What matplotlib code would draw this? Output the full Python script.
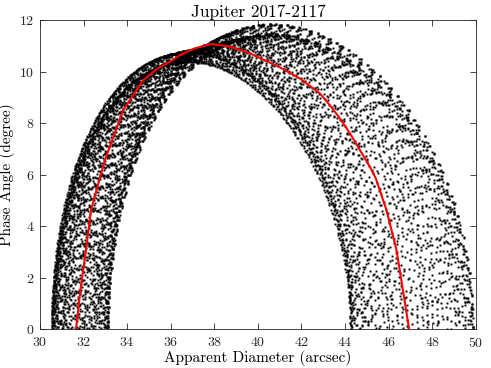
import numpy as np
import matplotlib
matplotlib.use("Agg")
import matplotlib.pyplot as plt

plt.rcParams['font.family'] = 'serif'
plt.rcParams['font.serif'] = ['cmr10']
plt.rcParams['axes.formatter.use_mathtext'] = True

# red reference curve
curve_diam = [31.65, 31.85, 32.11, 32.34, 32.98, 33.82, 34.74, 35.40, 36.10, 36.42, 37.10,
              37.88, 38.72, 39.63, 41.00, 41.93, 42.84, 43.30, 43.76, 44.22, 44.68,
              45.14, 45.41, 45.90, 46.36, 46.51, 46.94]
curve_phase = [0.00, 1.50, 3.08, 4.63, 6.57, 8.51, 9.67, 10.12, 10.45, 10.64, 10.90,
               11.07, 10.97, 10.71, 10.17, 9.73, 9.16, 8.70, 8.19, 7.61, 6.96,
               6.31, 5.86, 4.63, 3.08, 2.30, 0.00]

# scatter: Earth/Jupiter positions on dates spread over 2017-2117 (J2000 mean elements)
earth = dict(a=1.00000261, e=0.01671123, varpi=102.93768, L0=100.46457, period=365.25636)
jupiter = dict(a=5.20288700, e=0.04838624, varpi=14.72847983, L0=34.39644051, period=4332.589)
jd_start, jd_end, n_dates = 2457754.5, 2494278.5, 8500
diam_at_1au = 197.1  # arcsec, equatorial


def position(el, t):
    M = np.radians(el['L0'] + 360.0 / el['period'] * t - el['varpi'])
    E = M.copy()
    for i in range(30):
        E = M + el['e'] * np.sin(E)
    nu = 2 * np.arctan2(np.sqrt(1 + el['e']) * np.sin(E / 2), np.sqrt(1 - el['e']) * np.cos(E / 2))
    r = el['a'] * (1 - el['e'] * np.cos(E))
    lon = nu + np.radians(el['varpi'])
    return r * np.cos(lon), r * np.sin(lon)


# dates: golden-ratio (Weyl) spread over the century, no fixed step
golden = (np.sqrt(5) - 1) / 2
frac = (np.arange(n_dates) * golden) % 1.0
t = jd_start + frac * (jd_end - jd_start) - 2451545.0
ex, ey = position(earth, t)
jx, jy = position(jupiter, t)
dx, dy = ex - jx, ey - jy
delta = np.hypot(dx, dy)
rj = np.hypot(jx, jy)
cosa = (-jx * dx - jy * dy) / (rj * delta)
phase = np.degrees(np.arccos(np.clip(cosa, -1, 1)))
diam = diam_at_1au / delta

fig = plt.figure(figsize=(4.91, 3.68), dpi=100)
ax = fig.add_axes([0.0815, 0.105, 0.8875, 0.8405])
ax.plot(diam, phase, 's', color='k', ms=1.4, mew=0)
ax.plot(curve_diam, curve_phase, color='red', lw=1.5)

ax.set_xlim(30, 50)
ax.set_ylim(0, 12)
ax.set_xticks(range(30, 51, 2))
ax.set_yticks(range(0, 13, 2))
ax.tick_params(direction='in', top=True, right=True, length=4, width=0.6,
               labelsize=10, color='#262626', labelcolor='#262626')
ax.tick_params(axis='x', pad=5)
ax.tick_params(axis='y', pad=4)
for s in ax.spines.values():
    s.set_linewidth(0.6)
    s.set_color('#262626')

ax.set_title('Jupiter 2017-2117', fontsize=12.5, pad=2)
ax.set_xlabel('Apparent Diameter (arcsec)', fontsize=11, labelpad=0)
ax.set_ylabel('Phase Angle (degree)', fontsize=11, labelpad=3)

fig.savefig('out.png', dpi=100)
